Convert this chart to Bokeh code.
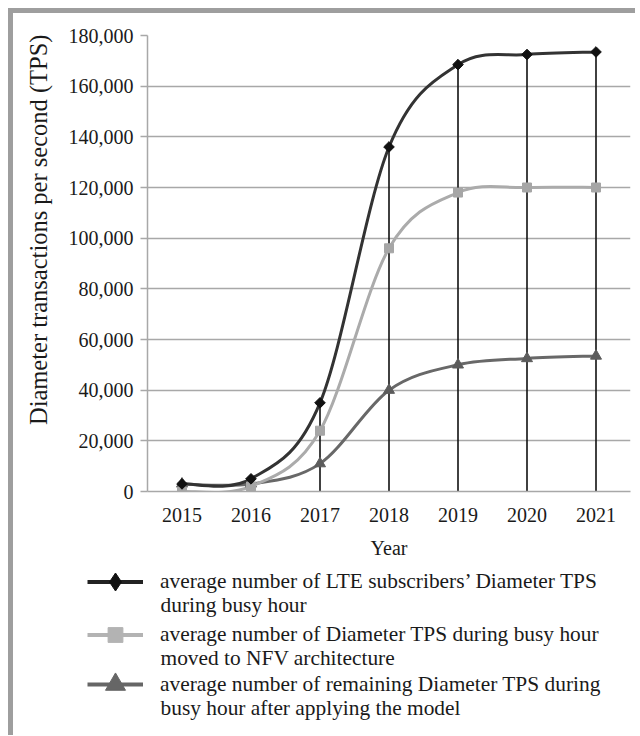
from bokeh.plotting import figure
from bokeh.models import (Range1d, FixedTicker, NumeralTickFormatter, Legend, LegendItem,
                          Label, ColumnDataSource)
from bokeh.embed import file_html
from bokeh.resources import INLINE

# ---------------- data ----------------
years = [2015, 2016, 2017, 2018, 2019, 2020, 2021]
lte_tps = [3000, 5000, 35000, 136000, 168500, 172500, 173500]
nfv_tps = [0, 2000, 24000, 96000, 118000, 120000, 120000]
remaining_tps = [3000, 3000, 11000, 40000, 50000, 52500, 53500]
y_ticks = [0, 20000, 40000, 60000, 80000, 100000, 120000, 140000, 160000, 180000]

y_title = "Diameter transactions per second (TPS)"
x_title = "Year"
legend_lines = [
    ("average number of LTE subscribers\u2019 Diameter TPS", "during busy hour"),
    ("average number of Diameter TPS during busy hour", "moved to NFV architecture"),
    ("average number of remaining Diameter TPS during", "busy hour after applying the model"),
]

FONT = "Liberation Serif"
TEXT = "#1a1a1a"
GRID = "#a8a8a8"
BORDER = "5px solid #9e9e9e"
C_LTE_LINE, C_LTE_MARK = "#333333", "#111111"
C_NFV_LINE, C_NFV_MARK = "#ababab", "#a6a6a6"
C_REM_LINE, C_REM_MARK = "#686868", "#5c5c5c"


def smooth_segments(xs, ys):
    """Cubic Bezier segments (Catmull-Rom style smoothing) through the data points."""
    n = len(xs)
    d = dict(x0=[], y0=[], x1=[], y1=[], cx0=[], cy0=[], cx1=[], cy1=[])
    for i in range(n - 1):
        a = i - 1 if i > 0 else i
        b = i + 2 if i + 2 < n else i + 1
        d["x0"].append(xs[i]); d["y0"].append(ys[i])
        d["x1"].append(xs[i + 1]); d["y1"].append(ys[i + 1])
        d["cx0"].append(xs[i] + (xs[i + 1] - xs[a]) / 6)
        d["cy0"].append(ys[i] + (ys[i + 1] - ys[a]) / 6)
        d["cx1"].append(xs[i + 1] - (xs[b] - xs[i]) / 6)
        d["cy1"].append(ys[i + 1] - (ys[b] - ys[i]) / 6)
    return ColumnDataSource(d)


src_lte = smooth_segments(years, lte_tps)
src_nfv = smooth_segments(years, nfv_tps)
src_rem = smooth_segments(years, remaining_tps)
BZ = dict(x0="x0", y0="y0", x1="x1", y1="y1", cx0="cx0", cy0="cy0", cx1="cx1", cy1="cy1")

FRAME_L, FRAME_T, FRAME_W, FRAME_H = 134, 22, 483, 456
W, H1, H2 = 622, 550, 172

# ---------------- chart ----------------
p = figure(width=W, height=H1, output_backend="svg", toolbar_location=None,
           x_range=Range1d(2014.5, 2021.5), y_range=Range1d(0, 180000),
           min_border_left=FRAME_L, min_border_top=FRAME_T,
           min_border_right=W - FRAME_L - FRAME_W,
           min_border_bottom=H1 - FRAME_T - FRAME_H,
           frame_width=FRAME_W, frame_height=FRAME_H,
           styles={"margin-left": "8px", "margin-top": "8px",
                   "border-top": BORDER, "border-left": BORDER})
p.outline_line_color = None

p.xaxis.ticker = FixedTicker(ticks=years)
p.xaxis.major_label_overrides = {y: str(y) for y in years}
p.yaxis.ticker = FixedTicker(ticks=y_ticks)
p.yaxis.formatter = NumeralTickFormatter(format="0,0")
for ax in (p.xaxis, p.yaxis):
    ax.axis_line_color = GRID
    ax.axis_line_width = 1.5
    ax.major_tick_line_color = GRID
    ax.major_tick_line_width = 1.5
    ax.minor_tick_line_color = None
    ax.major_label_text_font = FONT
    ax.major_label_text_font_size = "20px"
    ax.major_label_text_color = TEXT
    ax.axis_label_text_font = FONT
    ax.axis_label_text_font_style = "normal"
    ax.axis_label_text_color = TEXT
p.xaxis.major_tick_out = 0
p.xaxis.major_tick_in = 0
p.xaxis.major_label_standoff = 16
p.xaxis.axis_label = x_title
p.xaxis.axis_label_text_font_size = "20px"
p.xaxis.axis_label_standoff = 12
p.yaxis.major_tick_out = 7
p.yaxis.major_tick_in = 0
p.yaxis.major_label_standoff = 7
# leading no-break spaces move the centred title up, as in the original
p.yaxis.axis_label = "\u00a0" * 11 + y_title
p.yaxis.axis_label_text_font_size = "24.5px"
p.yaxis.axis_label_standoff = 14

p.xgrid.grid_line_color = None
p.ygrid.grid_line_color = GRID
p.ygrid.grid_line_width = 1.5

# drop lines
p.segment(x0=years, y0=[0] * len(years), x1=years, y1=lte_tps,
          line_color="#111111", line_width=1.6)

# smooth curves
p.bezier(source=src_rem, line_color=C_REM_LINE, line_width=3, line_cap="round", **BZ)
p.bezier(source=src_nfv, line_color=C_NFV_LINE, line_width=3, line_cap="round", **BZ)
p.bezier(source=src_lte, line_color=C_LTE_LINE, line_width=3, line_cap="round", **BZ)

# markers
p.scatter(years, remaining_tps, marker="triangle", size=11,
          fill_color=C_REM_MARK, line_color=C_REM_MARK)
p.scatter(years, nfv_tps, marker="square", size=9,
          fill_color=C_NFV_MARK, line_color=C_NFV_MARK)
p.scatter(years, lte_tps, marker="square", size=7.5, angle=0.7853981634,
          fill_color=C_LTE_MARK, line_color=C_LTE_MARK)

# ---------------- legend panel ----------------
q = figure(width=W, height=H2, output_backend="svg", toolbar_location=None,
           x_range=Range1d(0, W), y_range=Range1d(0, H2),
           min_border=0, x_axis_type=None, y_axis_type=None,
           styles={"margin-left": "8px", "border-left": BORDER})
q.outline_line_color = None
q.xgrid.grid_line_color = None
q.ygrid.grid_line_color = None

# legend sample renderers (same data, lying outside this panel's view)
lb1 = q.bezier(source=src_lte, line_color="#222222", line_width=4, **BZ)
ls1 = q.scatter(years, lte_tps, marker="diamond",
                fill_color=C_LTE_MARK, line_color=C_LTE_MARK)
lb2 = q.bezier(source=src_nfv, line_color="#b3b3b3", line_width=4, **BZ)
ls2 = q.scatter(years, nfv_tps, marker="square",
                fill_color="#b3b3b3", line_color="#b3b3b3")
lb3 = q.bezier(source=src_rem, line_color="#666666", line_width=4, **BZ)
ls3 = q.scatter(years, remaining_tps, marker="triangle",
                fill_color="#666666", line_color="#666666")

LEG_FONT = "21.4px"
item_centers = [18, 71, 121]     # y of each entry's first line, from panel top
glyph_heights = [45, 37, 50]
glyph_left, glyph_w, standoff = 74, 56, 17
for (l1, l2), rs, cy, gh in zip(legend_lines, [(lb1, ls1), (lb2, ls2), (lb3, ls3)],
                                item_centers, glyph_heights):
    lg = Legend(items=[LegendItem(label=l1, renderers=list(rs))],
                location=(glyph_left, H2 - cy - gh / 2),
                glyph_width=glyph_w, glyph_height=gh, label_standoff=standoff,
                padding=0, margin=0, spacing=0,
                border_line_color=None, background_fill_alpha=0,
                label_text_font=FONT, label_text_font_size=LEG_FONT,
                label_text_color=TEXT)
    q.add_layout(lg)
    q.add_layout(Label(x=glyph_left + glyph_w + standoff, y=H2 - (cy + 23),
                       x_units="screen", y_units="screen", text=l2,
                       text_font=FONT, text_font_size=LEG_FONT, text_color=TEXT,
                       text_baseline="middle", text_align="left"))

open("out.html", "w").write(file_html([p, q], INLINE))
